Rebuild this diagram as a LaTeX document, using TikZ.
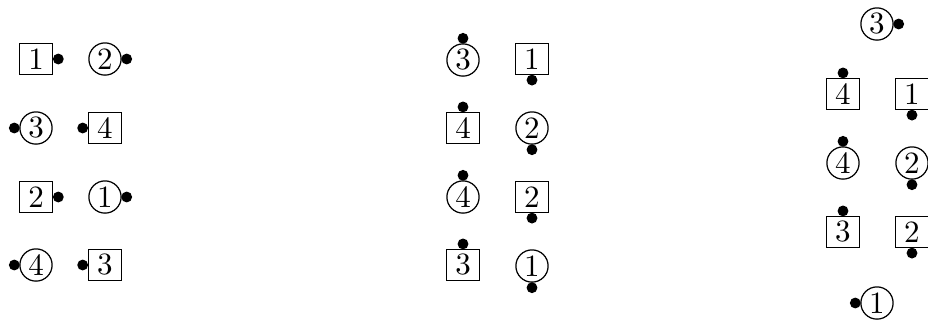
\documentclass[tikz,border=0pt]{standalone}
\usetikzlibrary{calc}
\tikzset{
  sq/.style={draw, rectangle, inner sep=0pt, minimum width=10.8pt, minimum height=10pt},
  rd/.style={draw, circle, inner sep=0pt, minimum size=10.4pt},
}
\newcommand{\dotE}[1]{\fill ($(#1.east)+(1.6pt,0)$) circle (1.75pt);}
\newcommand{\dotW}[1]{\fill ($(#1.west)+(-1.6pt,0)$) circle (1.75pt);}
\newcommand{\dotN}[1]{\fill ($(#1.north)+(0,1.6pt)$) circle (1.75pt);}
\newcommand{\dotS}[1]{\fill ($(#1.south)+(0,-1.6pt)$) circle (1.75pt);}
\begin{document}
\begin{tikzpicture}[x=0.3226pt, y=-0.3226pt]
\useasboundingbox (0,0) rectangle (928,320);
% group 1
\node[sq] (a1) at (36,59) {1}; \dotE{a1}
\node[rd] (a2) at (105,59) {2}; \dotE{a2}
\node[rd] (a3) at (36,128) {3}; \dotW{a3}
\node[sq] (a4) at (105,128) {4}; \dotW{a4}
\node[sq] (a5) at (36,197) {2}; \dotE{a5}
\node[rd] (a6) at (105,197) {1}; \dotE{a6}
\node[rd] (a7) at (36,265) {4}; \dotW{a7}
\node[sq] (a8) at (105,265) {3}; \dotW{a8}
% group 2
\node[rd] (b1) at (463,60) {3}; \dotN{b1}
\node[sq] (b2) at (532,59) {1}; \dotS{b2}
\node[sq] (b3) at (463,128) {4}; \dotN{b3}
\node[rd] (b4) at (532,128) {2}; \dotS{b4}
\node[rd] (b5) at (463,197) {4}; \dotN{b5}
\node[sq] (b6) at (532,197) {2}; \dotS{b6}
\node[sq] (b7) at (463,265) {3}; \dotN{b7}
\node[rd] (b8) at (532,266) {1}; \dotS{b8}
% group 3
\node[rd] (c1) at (877,24) {3}; \dotE{c1}
\node[sq] (c2) at (843,94) {4}; \dotN{c2}
\node[sq] (c3) at (912,94) {1}; \dotS{c3}
\node[rd] (c4) at (843,163) {4}; \dotN{c4}
\node[rd] (c5) at (912,163) {2}; \dotS{c5}
\node[sq] (c6) at (843,232) {3}; \dotN{c6}
\node[sq] (c7) at (912,232) {2}; \dotS{c7}
\node[rd] (c8) at (877,303) {1}; \dotW{c8}
\end{tikzpicture}
\end{document}
